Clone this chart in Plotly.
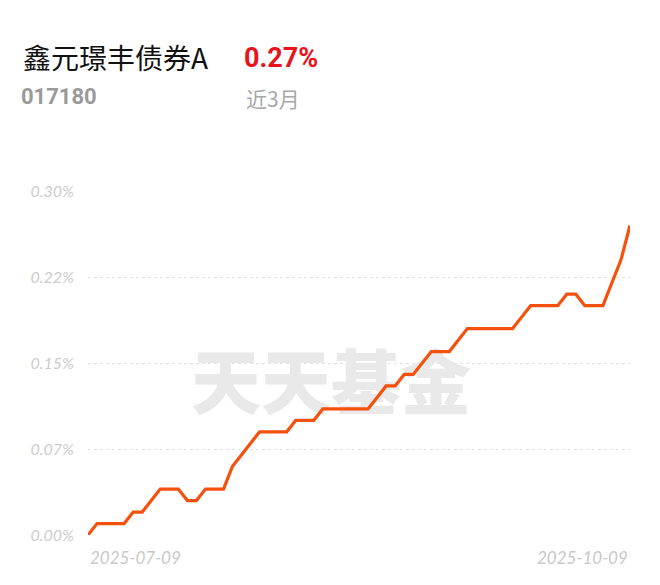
import plotly.graph_objects as go

fund_name = "鑫元璟丰债券A"
fund_code = "017180"
period_label = "近3月"
period_return = "0.27%"

dates = [
    "2025-07-09", "2025-07-10", "2025-07-11", "2025-07-14", "2025-07-15", "2025-07-16",
    "2025-07-17", "2025-07-18", "2025-07-21", "2025-07-22", "2025-07-23", "2025-07-24",
    "2025-07-25", "2025-07-28", "2025-07-29", "2025-07-30", "2025-07-31", "2025-08-01",
    "2025-08-04", "2025-08-05", "2025-08-06", "2025-08-07", "2025-08-08", "2025-08-11",
    "2025-08-12", "2025-08-13", "2025-08-14", "2025-08-15", "2025-08-18", "2025-08-19",
    "2025-08-20", "2025-08-21", "2025-08-22", "2025-08-25", "2025-08-26", "2025-08-27",
    "2025-08-28", "2025-08-29", "2025-09-01", "2025-09-02", "2025-09-03", "2025-09-04",
    "2025-09-05", "2025-09-08", "2025-09-09", "2025-09-10", "2025-09-11", "2025-09-12",
    "2025-09-15", "2025-09-16", "2025-09-17", "2025-09-18", "2025-09-19", "2025-09-22",
    "2025-09-23", "2025-09-24", "2025-09-25", "2025-09-26", "2025-09-29", "2025-09-30",
    "2025-10-09",
]

returns = [
    0.00, 0.01, 0.01, 0.01, 0.01, 0.02, 0.02, 0.03, 0.04, 0.04,
    0.04, 0.03, 0.03, 0.04, 0.04, 0.04, 0.06, 0.07, 0.08, 0.09,
    0.09, 0.09, 0.09, 0.10, 0.10, 0.10, 0.11, 0.11, 0.11, 0.11,
    0.11, 0.11, 0.12, 0.13, 0.13, 0.14, 0.14, 0.15, 0.16, 0.16,
    0.16, 0.17, 0.18, 0.18, 0.18, 0.18, 0.18, 0.18, 0.19, 0.20,
    0.20, 0.20, 0.20, 0.21, 0.21, 0.20, 0.20, 0.20, 0.22, 0.24,
    0.27,
]

y_tick_vals = [0.0, 0.075, 0.15, 0.225, 0.30]
y_tick_text = ["0.00%", "0.07%", "0.15%", "0.22%", "0.30%"]

x_idx = list(range(len(dates)))
n_last = len(dates) - 1

# page body has an 8px margin; layout is set up to compensate
OFF = 8
W, H = 660, 585
L, R, T, B = 88 - OFF, 38, 191 - OFF, 58
pw, ph = W - L - R, H - T - B

fig = go.Figure()

# watermark beneath the line
fig.add_trace(go.Scatter(
    x=[26.9], y=[0.1255], mode="text", text=["天天基金"],
    textfont=dict(family="Noto Sans CJK SC", size=70, color="#e9e9e9", weight=900),
    hoverinfo="skip", showlegend=False, cliponaxis=False,
))

fig.add_trace(go.Scatter(
    x=x_idx, y=returns, mode="lines",
    line=dict(color="#f5500c", width=3.2),
    customdata=dates, hovertemplate="%{customdata}: %{y:.2f}%<extra></extra>",
    showlegend=False, cliponaxis=False,
))

fig.update_layout(
    width=W, height=H,
    margin=dict(l=L, r=R, t=T, b=B),
    paper_bgcolor="white", plot_bgcolor="white",
    xaxis=dict(range=[0, n_last], showgrid=False, zeroline=False, showticklabels=False,
               showline=False, fixedrange=True),
    yaxis=dict(range=[0, 0.30], tickvals=y_tick_vals, ticktext=y_tick_text,
               showgrid=True, gridcolor="#e2e2e2", gridwidth=1, griddash="3px,3px",
               zeroline=False, showline=False, ticks="", ticklen=0,
               tickfont=dict(family="Lato", size=16, color="#cccccc", style="italic"),
               ticklabelstandoff=13),
    font=dict(family="Noto Sans CJK SC"),
)

annotations = [
    dict(text=fund_name, x=21, y=57, showarrow=False, xanchor="left", yanchor="middle",
         font=dict(family="Noto Sans CJK SC", size=28, color="#111111")),
    dict(text=period_return, x=242, y=58, showarrow=False, xanchor="left", yanchor="middle",
         font=dict(family="Roboto", size=27, color="#e8141c", weight="bold")),
    dict(text=fund_code, x=19, y=97, showarrow=False, xanchor="left", yanchor="middle",
         font=dict(family="Roboto", size=22, color="#9a9a9a", weight="bold")),
    dict(text=period_label, x=244, y=98, showarrow=False, xanchor="left", yanchor="middle",
         font=dict(family="Noto Sans CJK SC", size=21, color="#a8a8a8")),
]
# convert page pixel positions to paper coordinates
for a in annotations:
    a["x"] = (a["x"] - OFF - L) / pw
    a["y"] = (H + OFF - B - a["y"]) / ph
    a["xref"] = "paper"
    a["yref"] = "paper"

annotations += [
    dict(text=dates[0], x=0, y=0, xref="x", yref="paper", yshift=-22, showarrow=False,
         xanchor="left", yanchor="middle",
         font=dict(family="Lato", size=17, color="#c8c8c8", style="italic")),
    dict(text=dates[-1], x=n_last, y=0, xref="x", yref="paper", yshift=-22, showarrow=False,
         xanchor="right", yanchor="middle",
         font=dict(family="Lato", size=17, color="#c8c8c8", style="italic")),
]

fig.update_layout(annotations=annotations)

fig.write_html("out.html")
